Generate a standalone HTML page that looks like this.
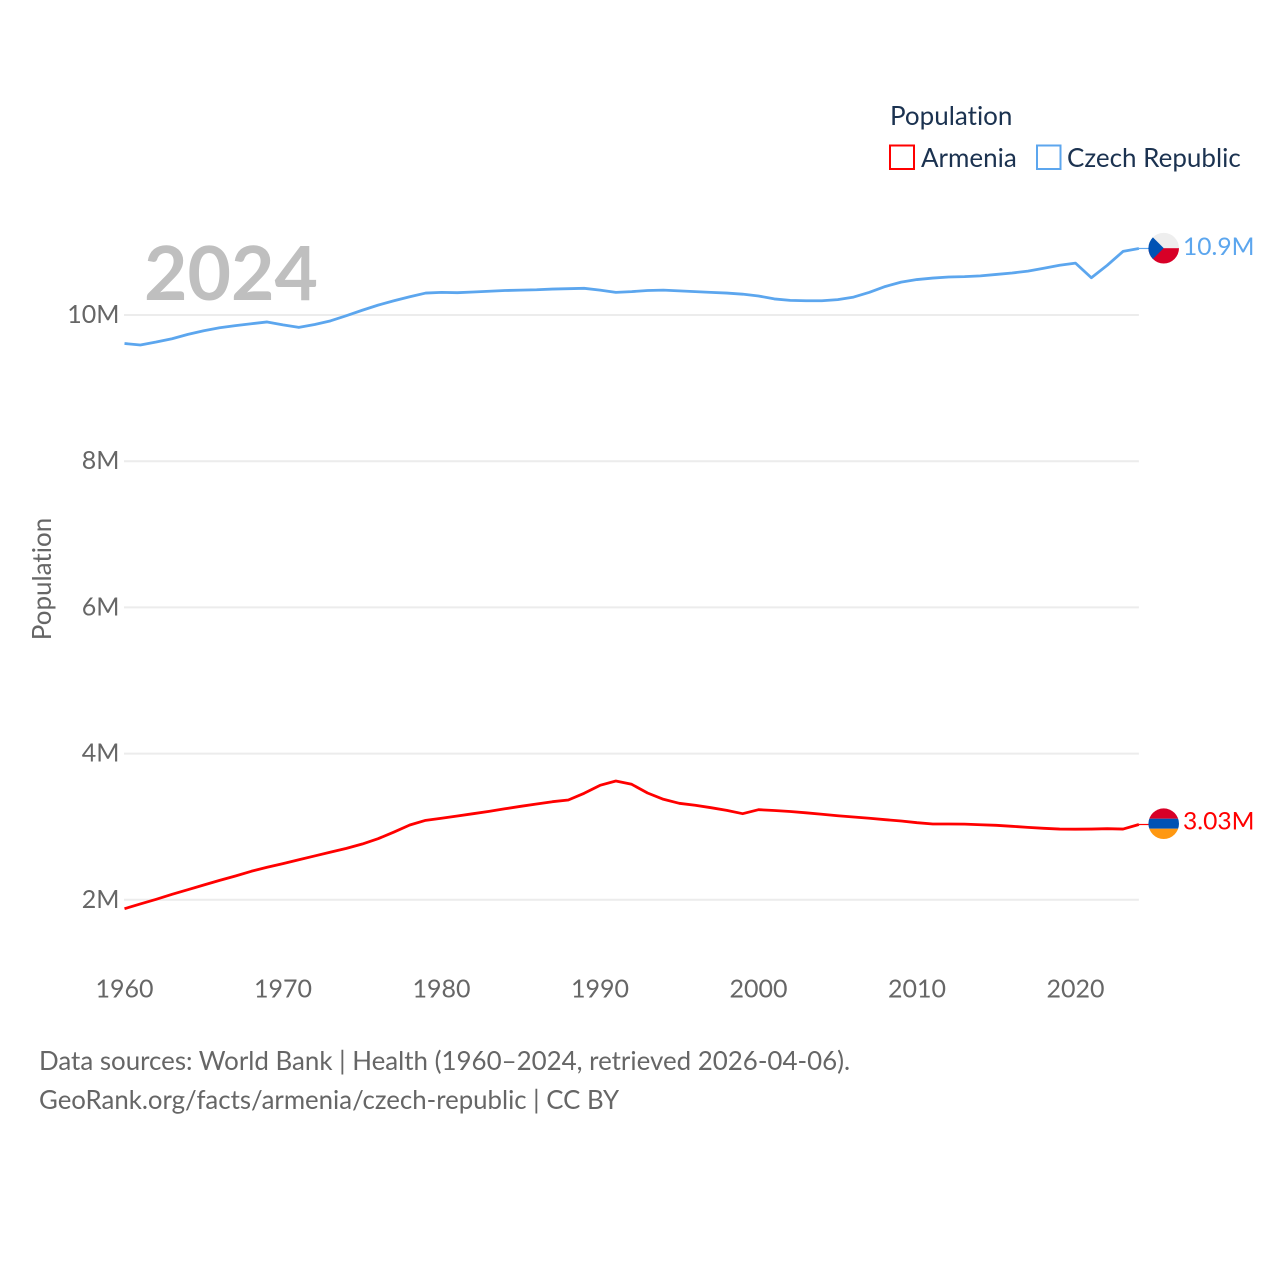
<!DOCTYPE html>
<html lang="en">
<head>
<meta charset="utf-8">
<title>Population: Armenia and Czech Republic</title>
<style>
html,body{margin:0;padding:0;background:#fff;}
svg{display:block;font-family:"Lato","Carlito","Liberation Sans",sans-serif;font-variant-ligatures:none;}
</style>
</head>
<body>
<svg id="chart" xmlns="http://www.w3.org/2000/svg" width="1280" height="1280" viewBox="0 0 1280 1280">
  <rect x="0" y="0" width="1280" height="1280" fill="#ffffff"/>
  <defs>
    <clipPath id="clip-cz"><circle id="clip-cz-circle" cx="0" cy="0" r="15.300"/></clipPath>
    <clipPath id="clip-am"><circle id="clip-am-circle" cx="0" cy="0" r="15.300"/></clipPath>
  </defs>
  <g id="grid"></g>
  <g id="yticks"></g>
  <g id="xticks"></g>
  <text transform="translate(51,579) rotate(-90)" text-anchor="middle" font-size="26" fill="#666666">Population</text>
  <text x="144" y="300" font-size="75" font-weight="700" fill="#bfbfbf">2024</text>
  <g id="series"></g>
  <g id="ends"></g>
  <g>
    <text x="890" y="125" font-size="26" fill="#1b3250">Population</text>
    <g>
      <rect x="890" y="145.500" width="24" height="23.500" fill="#ffffff" stroke="#ff0000" stroke-width="2"/>
      <text x="921" y="167" font-size="26" fill="#1b3250">Armenia</text>
    </g>
    <g>
      <rect x="1037" y="145.500" width="23.500" height="23.500" fill="#ffffff" stroke="#5ca6ee" stroke-width="2"/>
      <text x="1067" y="167" font-size="26" fill="#1b3250">Czech Republic</text>
    </g>
  </g>
  <g>
    <text x="39" y="1070" font-size="25.900" fill="#666666">Data sources: World Bank | Health (1960–2024, retrieved 2026-04-06).</text>
    <text x="39" y="1109" font-size="25.800" fill="#666666">GeoRank.org/facts/armenia/czech-republic | CC BY</text>
  </g>
</svg>
<script>
const startYear = 1960;
const yTickValues = [2, 4, 6, 8, 10];
const yTickLabels = ["2M", "4M", "6M", "8M", "10M"];
const xTickValues = [1960, 1970, 1980, 1990, 2000, 2010, 2020];
const xTickLabels = ["1960", "1970", "1980", "1990", "2000", "2010", "2020"];
const armeniaValues = [
  1.878, 1.943, 2.007, 2.075, 2.138, 2.202, 2.266, 2.326, 2.39, 2.445,
  2.495, 2.548, 2.6, 2.652, 2.704, 2.763, 2.836, 2.927, 3.023, 3.087,
  3.115, 3.146, 3.178, 3.21, 3.245, 3.279, 3.31, 3.342, 3.365, 3.457,
  3.566, 3.625, 3.58, 3.461, 3.375, 3.32, 3.293, 3.26, 3.224, 3.178,
  3.233, 3.222, 3.208, 3.19, 3.17, 3.15, 3.133, 3.115, 3.096, 3.078,
  3.055, 3.037, 3.037, 3.035, 3.027, 3.019, 3.005, 2.991, 2.978, 2.968,
  2.966, 2.968, 2.973, 2.968, 3.03
];
const czechValues = [
  9.61, 9.59, 9.63, 9.675, 9.735, 9.785, 9.825, 9.855, 9.88, 9.905,
  9.865, 9.83, 9.87, 9.92, 9.99, 10.065, 10.135, 10.195, 10.25, 10.3,
  10.31, 10.305, 10.315, 10.325, 10.335, 10.34, 10.345, 10.355, 10.36, 10.365,
  10.34, 10.31, 10.32, 10.335, 10.34, 10.33, 10.32, 10.31, 10.30, 10.285,
  10.26, 10.22, 10.20, 10.195, 10.195, 10.21, 10.245, 10.31, 10.39, 10.45,
  10.485, 10.505, 10.52, 10.525, 10.535, 10.555, 10.575, 10.60, 10.64, 10.68,
  10.71, 10.51, 10.68, 10.87, 10.91
];

const svgNS = "http://www.w3.org/2000/svg";
function xScale(year) { return 124.5 + (year - 1960) * 15.85; }
function yScale(v) { return 315 + (10 - v) * 73.1; }
function make(tag, attrs, parent) {
  const el = document.createElementNS(svgNS, tag);
  for (const k in attrs) el.setAttribute(k, attrs[k]);
  parent.appendChild(el);
  return el;
}
const grid = document.getElementById("grid");
const yticks = document.getElementById("yticks");
const xticks = document.getElementById("xticks");
const series = document.getElementById("series");
const ends = document.getElementById("ends");
const lastYear = startYear + czechValues.length - 1;

yTickValues.forEach(function (v, i) {
  const line = make("line", { x1: 124, x2: xScale(lastYear), y1: yScale(v), y2: yScale(v), stroke: "#ececec", "stroke-width": 2 }, grid);
  
  
  const t = make("text", { x: 119.5, y: yScale(v) + 8, "text-anchor": "end", "font-size": 25, fill: "#666666" }, yticks);
  t.textContent = yTickLabels[i];
  
  
});

xTickValues.forEach(function (yr, i) {
  const t = make("text", { x: xScale(yr), y: 997.5, "text-anchor": "middle", "font-size": 25, fill: "#666666" }, xticks);
  t.textContent = xTickLabels[i];
  
  
});

function linePoints(values) {
  return values.map(function (v, i) {
    return xScale(startYear + i).toFixed(2) + "," + yScale(v).toFixed(2);
  }).join(" ");
}

const armeniaLine = make("polyline", { points: linePoints(armeniaValues), fill: "none", stroke: "#ff0000", "stroke-width": 2.8, "stroke-linejoin": "round" }, series);


const czechLine = make("polyline", { points: linePoints(czechValues), fill: "none", stroke: "#5ca6ee", "stroke-width": 2.8, "stroke-linejoin": "round" }, series);



function endY(values) { return yScale(values[values.length - 1]); }
function endText(values) { return values[values.length - 1].toPrecision(3) + "M"; }

/* Czech end marker */
const czY = endY(czechValues);
const czStub = make("line", { x1: xScale(lastYear), x2: 1149, y1: czY, y2: czY, stroke: "#5ca6ee", "stroke-width": 1.2 }, ends);


const czFlag = make("g", { transform: "translate(1163.7," + (czY - 0.3) + ")", "clip-path": "url(#clip-cz)" }, ends);


make("rect", { x: -16, y: -16, width: 32, height: 16, fill: "#eeeeee" }, czFlag);
make("rect", { x: -16, y: 0, width: 32, height: 16, fill: "#d80027" }, czFlag);
make("polygon", { points: "-16,-16 0,0 -16,16", fill: "#0052b4" }, czFlag);
const czLabel = make("text", { x: 1183, y: czY + 6.5, "font-size": 24.6, fill: "#5ca6ee" }, ends);
czLabel.textContent = endText(czechValues);



/* Armenia end marker */
const amY = endY(armeniaValues);
const amStub = make("line", { x1: xScale(lastYear), x2: 1149, y1: amY, y2: amY, stroke: "#ff0000", "stroke-width": 1.2 }, ends);


const amFlag = make("g", { transform: "translate(1163.7," + (amY - 0.8) + ")", "clip-path": "url(#clip-am)" }, ends);


make("rect", { x: -16, y: -16, width: 32, height: 11, fill: "#d80027" }, amFlag);
make("rect", { x: -16, y: -5, width: 32, height: 10, fill: "#0052b4" }, amFlag);
make("rect", { x: -16, y: 5, width: 32, height: 11, fill: "#ff9811" }, amFlag);
const amLabel = make("text", { x: 1183, y: amY + 5, "font-size": 24.6, fill: "#ff0000" }, ends);
amLabel.textContent = endText(armeniaValues);


</script>
</body>
</html>
